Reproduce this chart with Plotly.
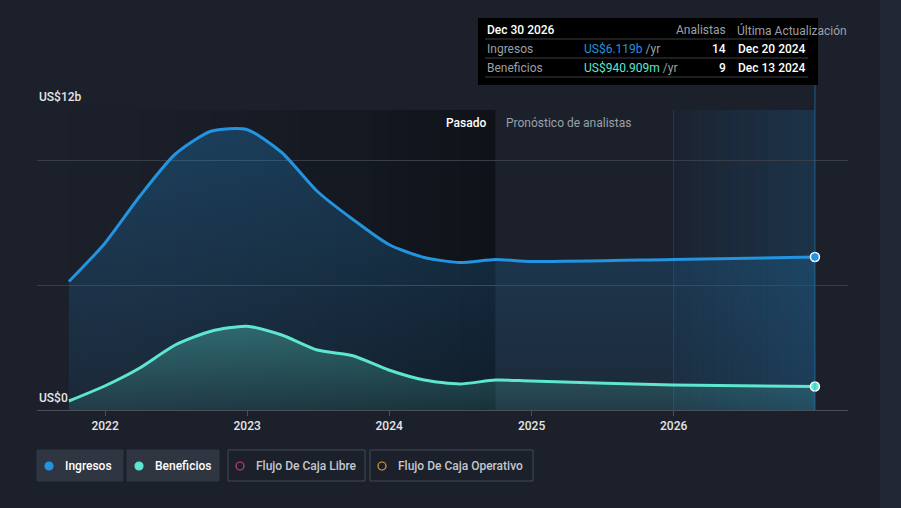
import plotly.graph_objects as go
import pandas as pd

# datos
fechas = ["2021-09-30", "2021-12-31", "2022-03-31", "2022-06-30", "2022-09-30",
          "2022-12-31", "2023-03-31", "2023-06-30", "2023-09-30", "2023-12-31",
          "2024-03-31", "2024-06-30", "2024-09-30", "2024-12-31", "2025-12-31",
          "2026-12-30"]
ingresos = [5.14, 6.66, 8.55, 10.23, 11.15, 11.22, 10.3, 8.75, 7.62, 6.62,
            6.1, 5.9, 6.02, 5.94, 6.02, 6.119]
beneficios = [0.36, 0.96, 1.68, 2.6, 3.15, 3.35, 3.0, 2.4, 2.17, 1.6,
              1.2, 1.04, 1.2, 1.16, 1.0, 0.941]
anios = ["2022-01-01", "2023-01-01", "2024-01-01", "2025-01-01", "2026-01-01"]
anios_txt = ["2022", "2023", "2024", "2025", "2026"]

AZUL = "#2394df"
TEAL = "#5ee6cf"
FONDO = "#1b202b"
GRIS = "#9aa0a8"

W, H = 901, 508
L, R, T, B = 37, 53, 110, 98


def px(x):
    return (x - L) / (W - L - R)


def py(y):
    return (H - B - y) / (H - T - B)


fig = go.Figure()

fig.add_trace(go.Scatter(
    x=fechas, y=ingresos, mode="lines", line=dict(color=AZUL, width=3, shape="spline", smoothing=0.65),
    fill="tozeroy",
    fillgradient=dict(type="vertical", colorscale=[[0, "rgba(35,148,223,0.08)"], [1, "rgba(35,148,223,0.28)"]]),
    hoverinfo="skip", showlegend=False))
fig.add_trace(go.Scatter(
    x=fechas, y=beneficios, mode="lines", line=dict(color=TEAL, width=3, shape="spline", smoothing=0.65),
    fill="tozeroy",
    fillgradient=dict(type="vertical", colorscale=[[0, "rgba(94,230,207,0.1)"], [1, "rgba(94,230,207,0.32)"]]),
    hoverinfo="skip", showlegend=False))
# puntos finales
fig.add_trace(go.Scatter(x=fechas[-1:], y=ingresos[-1:], mode="markers",
                         marker=dict(color=AZUL, size=9, line=dict(color="white", width=1.5)),
                         hoverinfo="skip", showlegend=False))
fig.add_trace(go.Scatter(x=fechas[-1:], y=beneficios[-1:], mode="markers",
                         marker=dict(color=TEAL, size=9, line=dict(color="white", width=1.5)),
                         hoverinfo="skip", showlegend=False))

shapes = []
# zona pasada con degradado oscuro
ini = pd.Timestamp("2021-09-30")
fin = pd.Timestamp("2024-09-30")
n = 24
for i in range(n):
    a = ini + (fin - ini) * i / n
    b = ini + (fin - ini) * (i + 1) / n
    shapes.append(dict(type="rect", xref="x", yref="paper", x0=a, x1=b, y0=0, y1=1,
                       fillcolor="black", opacity=0.42 * ((i + 1) / n) ** 1.5,
                       line=dict(width=0), layer="below"))
# banda azul 2026
ini = pd.Timestamp("2026-01-01")
fin = pd.Timestamp("2026-12-30")
for i in range(n):
    a = ini + (fin - ini) * i / n
    b = ini + (fin - ini) * (i + 1) / n
    shapes.append(dict(type="rect", xref="x", yref="paper", x0=a, x1=b, y0=0, y1=1,
                       fillcolor=AZUL, opacity=0.03 + 0.14 * (i + 1) / n,
                       line=dict(width=0), layer="below"))
shapes.append(dict(type="line", xref="x", yref="paper", x0="2026-01-01", x1="2026-01-01", y0=0, y1=1,
                   line=dict(color="rgba(35,148,223,0.25)", width=1), layer="below"))
# línea del cursor
shapes.append(dict(type="line", xref="x", yref="paper", x0=fechas[-1], x1=fechas[-1], y0=0, y1=py(85),
                   line=dict(color="rgba(35,148,223,0.35)", width=1.5)))
# franja derecha de la página
shapes.append(dict(type="rect", xref="paper", yref="paper", x0=px(880), x1=px(W), y0=py(H), y1=py(0),
                   fillcolor="#222833", line=dict(width=0), layer="below"))
# caja del tooltip
shapes.append(dict(type="rect", xref="paper", yref="paper", x0=px(478), x1=px(818), y0=py(85), y1=py(18),
                   fillcolor="black", line=dict(width=0)))
for yy in [39, 58, 77]:
    shapes.append(dict(type="line", xref="paper", yref="paper", x0=px(485), x1=px(808), y0=py(yy), y1=py(yy),
                       line=dict(color="#3c3f44", width=1)))

annotations = []


def txt(x, y, s, color="white", size=12, anchor="left", peso=400):
    annotations.append(dict(xref="paper", yref="paper", x=px(x), y=py(y), text=s,
                            showarrow=False, xanchor=anchor, yanchor="middle",
                            font=dict(color=color, size=size, family="Roboto", weight=peso)))


txt(485, 30, "Dec 30 2026", peso=500)
txt(728, 30, "Analistas", GRIS, anchor="right")
txt(735, 30, "Última Actualización", GRIS)
txt(485, 49, "Ingresos", GRIS)
txt(582, 49, f"<span style='color:{AZUL}'>US$6.119b</span> /yr", GRIS)
txt(728, 49, "14", anchor="right", peso=500)
txt(808, 49, "Dec 20 2024", anchor="right", peso=500)
txt(485, 68, "Beneficios", GRIS)
txt(582, 68, f"<span style='color:{TEAL}'>US$940.909m</span> /yr", GRIS)
txt(728, 68, "9", anchor="right", peso=500)
txt(808, 68, "Dec 13 2024", anchor="right", peso=500)

txt(37, 97, "US$12b", "#e6e6e6", peso=500)
txt(37, 398, "US$0", "#e6e6e6", peso=500)
txt(488, 123, "Pasado", "white", anchor="right", peso=500)
txt(504, 123, "Pronóstico de analistas", GRIS)

# leyenda
leyenda = [("Ingresos", AZUL, True, 37, 123), ("Beneficios", TEAL, True, 127, 219),
           ("Flujo De Caja Libre", "#c8427b", False, 228, 365),
           ("Flujo De Caja Operativo", "#e0a040", False, 370, 533)]
for nombre, color, activo, x0, x1 in leyenda:
    shapes.append(dict(type="rect", xref="paper", yref="paper", x0=px(x0), x1=px(x1), y0=py(481), y1=py(450),
                       fillcolor="#2f3642" if activo else "rgba(0,0,0,0)",
                       line=dict(color="#2f3642" if activo else "#454b56", width=1)))
    shapes.append(dict(type="circle", xref="paper", yref="paper", x0=px(x0 + 8), x1=px(x0 + 16),
                       y0=py(470), y1=py(462), fillcolor=color if activo else "rgba(0,0,0,0)",
                       line=dict(color=color, width=1.2)))
    txt(x0 + 26, 466, nombre, "white" if activo else "#c4c8cf", peso=500)

fig.update_layout(
    width=W, height=H, margin=dict(l=L, r=R, t=T, b=B),
    paper_bgcolor=FONDO, plot_bgcolor=FONDO,
    shapes=shapes, annotations=annotations,
    font=dict(family="Roboto", color="white"),
    xaxis=dict(type="date", range=["2021-07-10", "2027-03-25"], tickvals=anios, ticktext=anios_txt,
               showgrid=False, showline=True, linecolor="#4a4f58", ticks="outside", ticklen=5,
               tickcolor="#4a4f58", tickfont=dict(color="#e6e6e6", size=12, weight=500), zeroline=False),
    yaxis=dict(range=[0, 12], tickvals=[0, 5, 10, 12], showticklabels=False, showgrid=True,
               gridcolor="#383e49", zeroline=False),
)

# quitar el margen blanco de la página
fig.write_html("out.html", config={"displayModeBar": False},
               post_script="document.body.style.margin='0';")
